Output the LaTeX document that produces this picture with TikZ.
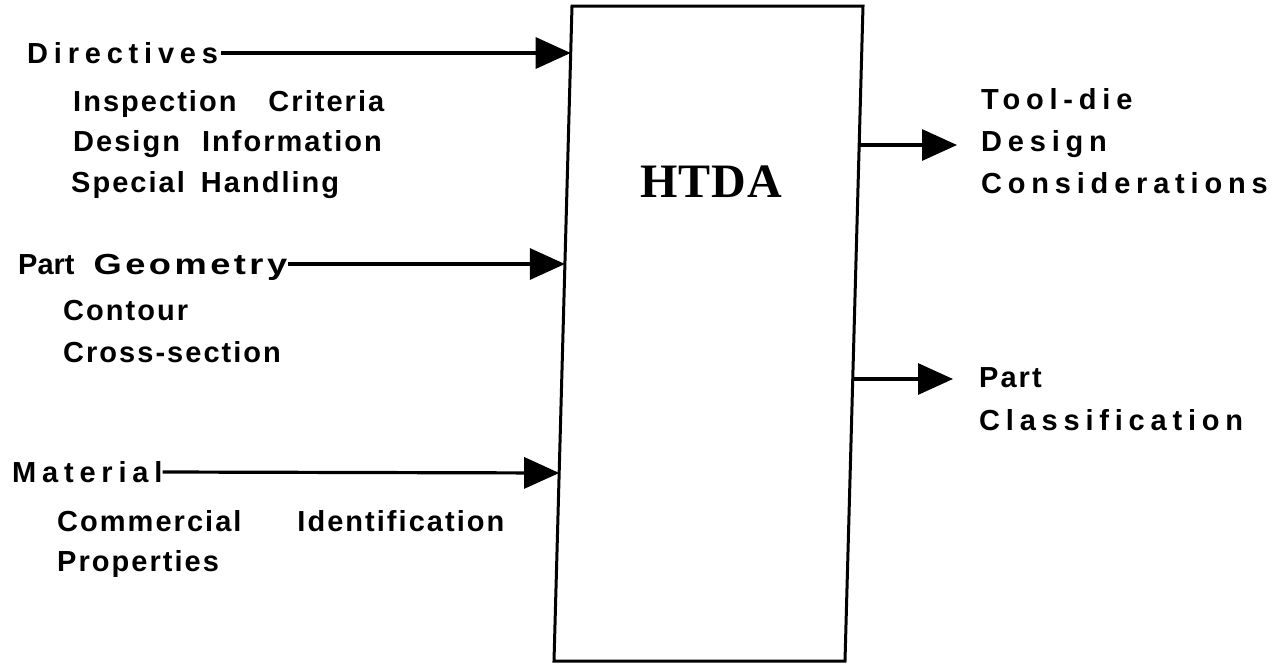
\documentclass[tikz,border=0pt]{standalone}
\usepackage{fontspec}
\setmainfont{Liberation Sans}
\newfontfamily\hdfont[LetterSpace=20]{Liberation Sans}
\newfontfamily\wdfont[FakeStretch=1.25,LetterSpace=12]{Liberation Sans}
\newfontfamily\subfont[LetterSpace=7]{Liberation Sans}
\newfontfamily\titlefont[LetterSpace=2]{Liberation Serif}
\usetikzlibrary{arrows.meta}
\begin{document}
\begin{tikzpicture}[x=1pt,y=-1pt,
  head/.style={anchor=west,inner sep=0pt,text height=21pt,text depth=0pt,
    font=\hdfont\bfseries\fontsize{29}{34}\selectfont},
  sub/.style={anchor=west,inner sep=0pt,text height=21pt,text depth=0pt,
    font=\subfont\bfseries\fontsize{29}{34}\selectfont},
  arr/.style={line width=3.2pt,-{Triangle[length=35pt,width=31pt]}},
  boxline/.style={line width=3pt,line join=miter}]
\useasboundingbox (0,0) rectangle (1278,665);
% box
\coordinate (TL) at (572,6);
\coordinate (TR) at (863,6);
\coordinate (BR) at (845,661);
\coordinate (BL) at (554,661);
\draw[boxline] (TL) -- (TR) -- (BR) -- (BL) -- cycle;
\node[font=\titlefont\bfseries\fontsize{48}{54}\selectfont] (htda) at (711,182) {HTDA};
% points on the box
\coordinate (inA) at (570.7,53);
\coordinate (inB) at (564.9,264);
\coordinate (inC) at (559.2,473);
\coordinate (outA) at (859.2,145);
\coordinate (outB) at (852.7,379);
\coordinate (endA) at (957,145);
\coordinate (endB) at (953,379);
% left texts
\node[head] (dir) at (27,53) {Directives};
\node[sub] (insp) at (73,101) {Inspection\hspace{32pt}Criteria};
\node[sub] (desi) at (73,141) {Design\hspace{22pt}Information};
\node[sub] (spec) at (71,182) {Special\hspace{16pt}Handling};
\node[head] (pg) at (18,264) {{\rmfamily Part}\hspace{19pt}{\wdfont Geometry}};
\node[sub] (cont) at (63,310) {Contour};
\node[sub] (cross) at (63,352) {Cross-section};
\node[head] (mat) at (12,472) {Material};
\node[sub] (comm) at (57,521) {Commercial\hspace{56pt}Identification};
\node[sub] (prop) at (57,561) {Properties};
% right texts
\node[head] (tool) at (981,99) {Tool-die};
\node[head] (dsg) at (981,141) {Design};
\node[head] (cons) at (981,183) {Considerations};
\node[sub] (part) at (979,377) {Part};
\node[head] (cls) at (979,420) {Classification};
% connectors
\draw[arr,shorten <=3pt] (dir.east) -- (inA);
\draw[arr,shorten <=1pt] (pg.east) -- (inB);
\draw[arr] (mat.east) -- (inC);
\draw[arr] (outA) -- (endA);
\draw[arr] (outB) -- (endB);
\end{tikzpicture}
\end{document}
